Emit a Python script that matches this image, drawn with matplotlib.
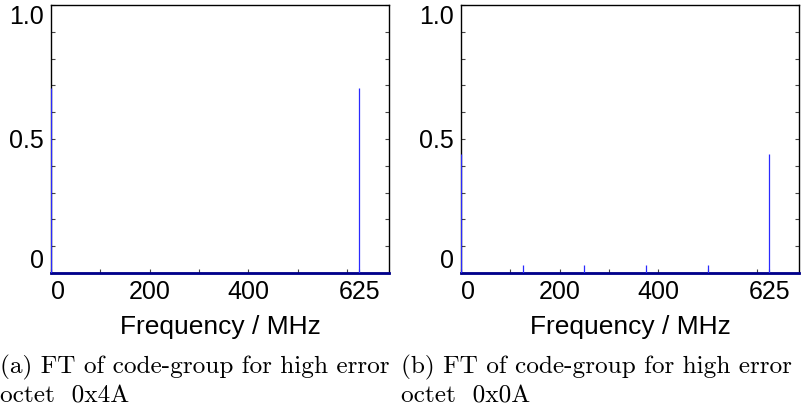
import numpy as np
import matplotlib
matplotlib.use("Agg")
import matplotlib.pyplot as plt

# ---- data ----
freq_a = [0, 625]
amp_a = [0.69, 0.69]
freq_b = [0, 125, 250, 375, 500, 625]
amp_b = [0.444, 0.028, 0.028, 0.028, 0.028, 0.444]

xtick_major = [0, 200, 400, 625]
xtick_labels = ["0", "200", "400", "625"]
xtick_minor = [100, 300, 500, 600]
ytick_vals = [0, 0.5, 1.0]
ytick_labels = ["0", "0.5", "1.0"]
captions = ["(a) FT of code-group for high error\noctet  0x4A",
            "(b) FT of code-group for high error\noctet  0x0A"]
xlabel = "Frequency / MHz"

plt.rcParams["font.family"] = ["Liberation Sans", "DejaVu Sans"]

fig = plt.figure(figsize=(8.1, 4.16), dpi=100)
W, H = 810, 416
panels = [(51, freq_a, amp_a), (461, freq_b, amp_b)]
cap_x = [0, 401]

for i, (x0, fr, am) in enumerate(panels):
    ax = fig.add_axes([x0 / W, (H - 273) / H, 338 / W, 268 / H])
    ax.set_xlim(0, 685)
    ax.set_ylim(0, 1.0)
    ax.axhline(0, color="#00008c", lw=2.0, zorder=3, clip_on=False)
    ax.vlines(fr, 0, am, colors="#2a2aff", lw=0.9, zorder=4)
    for s in ax.spines.values():
        s.set_linewidth(1.0)
    yt = np.round(np.arange(0, 1.01, 0.1), 2)
    ax.set_xticks(xtick_major)
    ax.set_xticklabels(xtick_labels)
    ax.set_xticks(xtick_minor, minor=True)
    ax.set_yticks(yt)
    ax.set_yticklabels([ytick_labels[ytick_vals.index(v)] if v in ytick_vals else ""
                        for v in yt])
    ax.tick_params(axis="both", which="both", direction="in", length=3,
                   width=0.8, color="#444444", labelsize=18, pad=5)
    ax.tick_params(axis="y", which="both", left=True, right=True)
    ax.tick_params(axis="x", which="both", top=False, bottom=True)
    for t in ax.get_yticklabels():
        if t.get_text() == "1.0":
            t.set_verticalalignment("top")
        elif t.get_text() == "0":
            t.set_verticalalignment("bottom")
    for t in ax.get_xticklabels():
        if t.get_text() == "0":
            t.set_horizontalalignment("left")
    ax.set_xlabel(xlabel, fontsize=19, labelpad=8)
    fig.text(cap_x[i] / W, 1 - 355 / H, captions[i], family=["cmr10", "DejaVu Serif"],
             fontsize=18.2, va="top", ha="left", linespacing=1.32)

fig.savefig("out.png", dpi=100)
